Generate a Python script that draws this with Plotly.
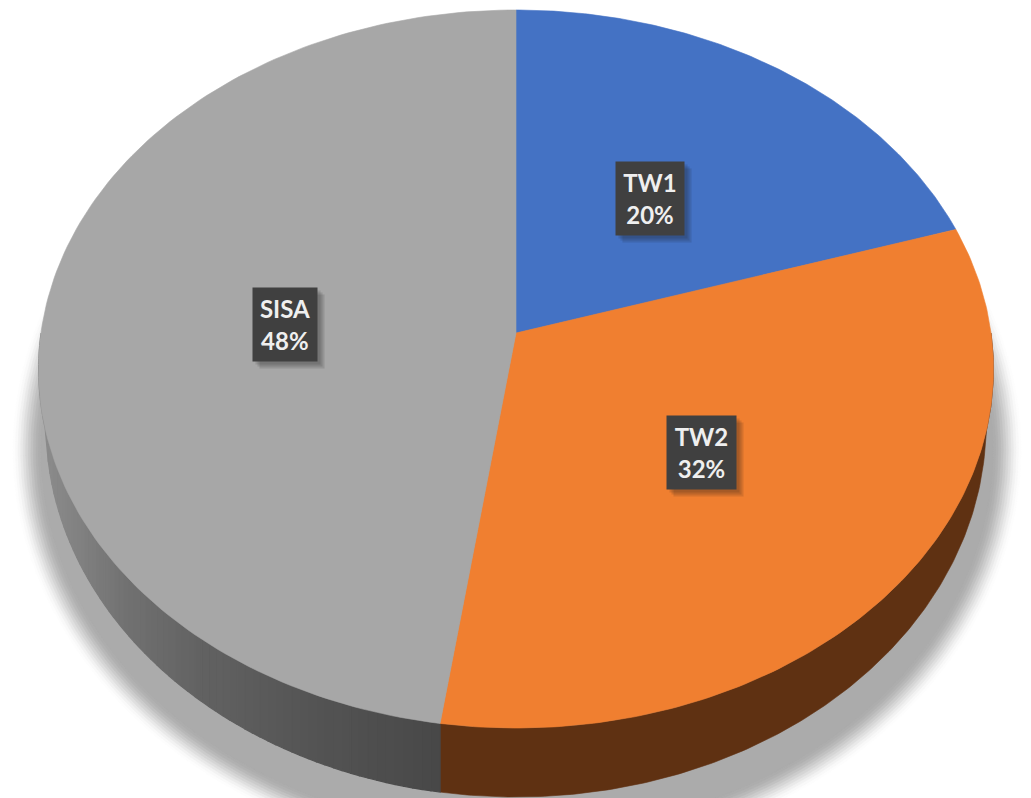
import numpy as np
import plotly.graph_objects as go

# ---- data ----
categories = ["TW1", "TW2", "SISA"]
values = [20.15, 32.15, 47.7]
pct_labels = ["20%", "32%", "48%"]
top_colors = ["#4472C4", "#F07F30", "#A7A7A7"]

# ---- label boxes ----
box_widths = [66, 67, 62]
box_height = 71
label_nudge = [(-1, 3), (-1.5, 0), (5, 4)]

# ---- projection of the tilted disc onto the page ----
CX, CY, A, B, K = 516, 333, 475, 355.4, 0.1003
RIM_CY, RIM_RX, RIM_RY = 425, 470, 372
SH_CX, SH_CY, SH_RX, SH_RY = 517, 450, 490, 397

# ---- grey wall shading ----
shade_x = [50, 130, 200, 300, 440]
shade_v = [138, 112, 98, 85, 72]


def project(t, r=1.0):
    xx, yy = r * np.sin(t), r * np.cos(t)
    w = 1 + K * yy
    return CX + A * xx / w, CY - B * yy / w


def rim_y(x, top_y):
    u = (x - CX) / RIM_RX
    inside = np.abs(u) < 1
    low = RIM_CY + RIM_RY * np.sqrt(np.clip(1 - u ** 2, 0, 1))
    return np.where(inside, np.maximum(low, top_y), top_y)


def mix(c1, c2, f):
    return "rgb(%d,%d,%d)" % tuple(round(a + (b - a) * f) for a, b in zip(c1, c2))


fig = go.Figure()


def poly(x, y, color, lw=0.6):
    fig.add_trace(go.Scatter(x=list(x), y=list(y), mode="lines", fill="toself",
                             fillcolor=color, line=dict(width=lw, color=color),
                             hoverinfo="skip", showlegend=False))


# soft shadow: stacked ellipses from faint to solid
theta = np.linspace(0, 2 * np.pi, 240)
for i in range(12):
    f = (i + 1) / 12
    grow = 14 - 28 * i / 11
    poly(SH_CX + (SH_RX + grow) * np.cos(theta),
         SH_CY + (SH_RY + grow) * np.sin(theta),
         mix((255, 255, 255), (171, 171, 171), f * f * (3 - 2 * f)))
poly(SH_CX + (SH_RX - 14) * np.cos(theta), SH_CY + (SH_RY - 14) * np.sin(theta), "#ABABAB")

total = sum(values)
edges = np.concatenate([[0], np.cumsum(values)]) / total * 2 * np.pi

# side wall: only the near half of the disc shows it
for i, name in enumerate(categories):
    lo, hi = max(edges[i], np.pi * 0.5), min(edges[i + 1], np.pi * 1.5)
    if hi <= lo:
        continue
    if name == "SISA":
        # thin strips so the grey one can shade from right to left
        n = max(2, int((hi - lo) / np.radians(1.0)))
        ts = np.linspace(lo, hi, n + 1)
        for a, b in zip(ts[:-1], ts[1:]):
            xa, ya = project(a)
            xb, yb = project(b)
            v = np.interp((xa + xb) / 2, shade_x, shade_v)
            col = mix((v, v, v), (v, v, v), 0)
            poly([xa, xb, xb, xa, xa],
                 [ya, yb, rim_y(xb, yb), rim_y(xa, ya), ya], col, lw=1.2)
    else:
        ts = np.linspace(lo, hi, 200)
        px, py = project(ts)
        ry = rim_y(px, py)
        poly(np.r_[px, px[::-1], px[0]], np.r_[py, ry[::-1], py[0]], "#5F3112")

# top faces
for i, name in enumerate(categories):
    ts = np.linspace(edges[i], edges[i + 1], 160)
    px, py = project(ts)
    poly(np.r_[CX, px, CX], np.r_[CY, py, CY], top_colors[i])

# labels
annotations = []
for i, name in enumerate(categories):
    lx, ly = project((edges[i] + edges[i + 1]) / 2, 0.5)
    lx = float(lx) + label_nudge[i][0]
    ly = float(ly) + label_nudge[i][1]
    for off in (7, 5, 3):
        annotations.append(dict(x=lx, y=ly, xref="x", yref="y", showarrow=False, text=" ",
                                width=box_widths[i], height=box_height,
                                xshift=off, yshift=-off,
                                bgcolor="rgba(20,20,20,0.13)"))
    annotations.append(dict(x=lx, y=ly, xref="x", yref="y", showarrow=False,
                            text=f"<b>{name}<br>{pct_labels[i]}</b>",
                            width=box_widths[i], height=box_height,
                            align="center", valign="middle",
                            bgcolor="#404040",
                            font=dict(family="Lato", size=24, color="#EFEFEF")))

fig.update_layout(width=1031, height=798, margin=dict(l=0, r=0, t=0, b=0),
                  paper_bgcolor="white", plot_bgcolor="white", annotations=annotations,
                  xaxis=dict(range=[0, 1031], visible=False, fixedrange=True),
                  yaxis=dict(range=[798, 0], visible=False, fixedrange=True))
fig.write_html("out.html", config={"displayModeBar": False},
               post_script="document.body.style.margin='0';document.body.style.overflow='hidden';")
